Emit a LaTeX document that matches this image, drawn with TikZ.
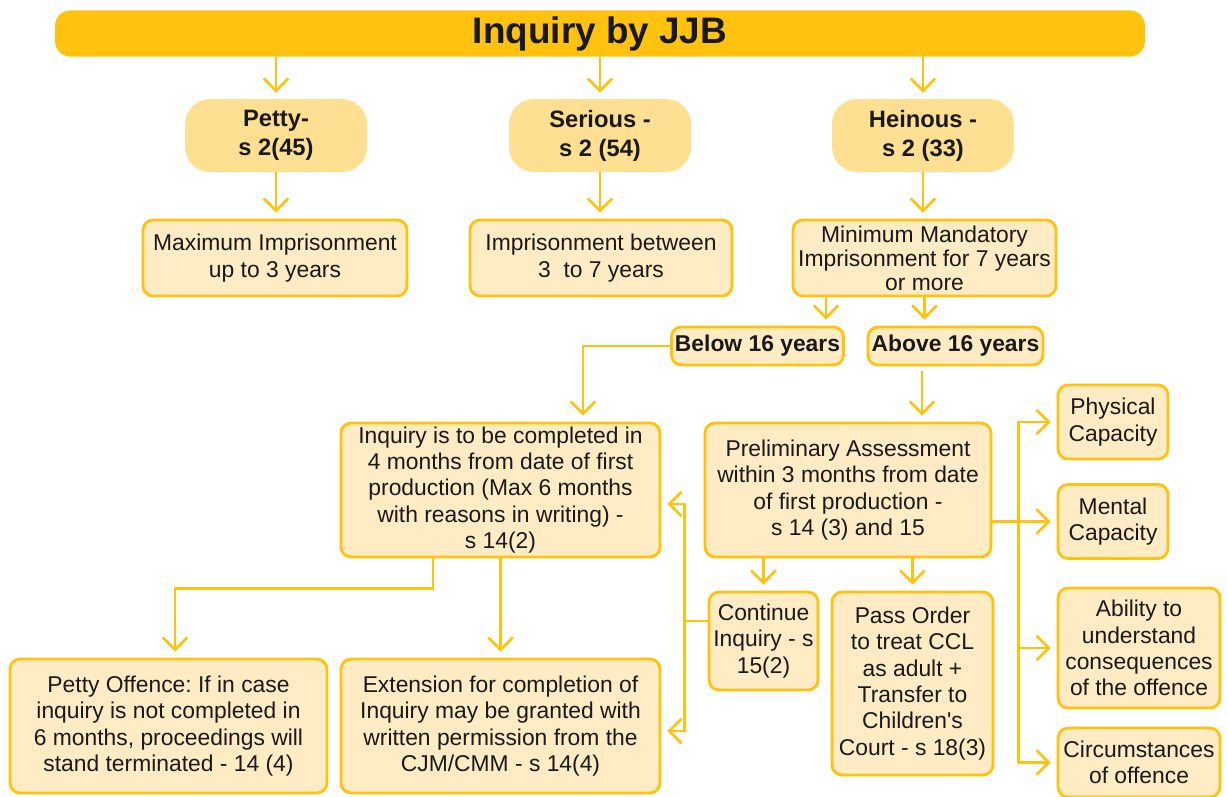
\documentclass[tikz,border=0pt]{standalone}
\usepackage{fontspec}
\setmainfont{Liberation Sans}[Ligatures=TeXOff]
\usetikzlibrary{arrows.meta}
\definecolor{jjbyellow}{HTML}{FFC20E}
\definecolor{jjbmid}{HTML}{FFE092}
\definecolor{jjblight}{HTML}{FFEBC4}
\frenchspacing

\begin{document}
\begin{tikzpicture}[x=0.02cm,y=-0.02cm,
  every node/.style={text=black!90},
  head/.style={fill=jjbyellow,rounded corners=0.3cm,minimum width=21.8cm,minimum height=0.9cm,font=\fontsize{21}{24}\selectfont\bfseries},
  kind/.style={fill=jjbmid,rounded corners=0.5cm,minimum width=3.64cm,minimum height=1.46cm,align=center,font=\fontsize{13.5}{16.5}\selectfont\bfseries},
  box/.style={draw=jjbyellow,line width=1.6pt,fill=jjblight,rounded corners=0.2cm,align=center,inner sep=2pt,font=\fontsize{13}{15}\selectfont},
  age/.style={box,font=\fontsize{13}{15}\selectfont\bfseries},
  link/.style={draw=jjbyellow,line width=1.5pt},
  arr/.style={link,-{Straight Barb[length=7pt,width=14pt]},shorten >=0.12cm}]
\useasboundingbox (0,0) rectangle (1227,796);

\node[head] (title) at (600,33.5) {Inquiry by JJB};

\node[kind] (petty) at (276,135.5) {Petty-\\s 2(45)};
\node[kind] (serious) at (600,135.5) {Serious -\\s 2 (54)};
\node[kind] (heinous) at (923,135.5) {Heinous -\\s 2 (33)};

\node[box,minimum width=5.28cm,minimum height=1.52cm] (maxim) at (275,258) {Maximum Imprisonment\\up to 3 years};
\node[box,minimum width=5.24cm,minimum height=1.52cm] (between) at (601,258) {Imprisonment between\\3 \ to 7 years};
\node[box,minimum width=5.26cm,minimum height=1.52cm,font=\fontsize{13}{13.6}\selectfont] (mandatory) at (924.5,258) {Minimum Mandatory\\Imprisonment for 7 years\\or more};

\node[age,minimum width=3.42cm,minimum height=0.76cm] (below) at (757.5,346) {Below 16 years};
\node[age,minimum width=3.5cm,minimum height=0.76cm] (above) at (955.5,346) {Above 16 years};

\node[box,minimum width=6.38cm,minimum height=2.68cm] (inquiry) at (500.5,490) {Inquiry is to be completed in\\4 months from date of first\\production (Max 6 months\\with reasons in writing) -\\s 14(2)};
\node[box,minimum width=5.72cm,minimum height=2.68cm] (prelim) at (848,490) {Preliminary Assessment\\within 3 months from date\\of first production -\\s 14 (3) and 15};
\node[box,minimum width=2.18cm,minimum height=1.96cm] (continue) at (763.5,641) {Continue\\Inquiry - s\\15(2)};
\node[box,minimum width=3.22cm,minimum height=3.66cm] (transfer) at (912.5,683.5) {Pass Order\\to treat CCL\\as adult +\\Transfer to\\Children's\\Court - s 18(3)};

\node[box,minimum width=2.2cm,minimum height=1.48cm] (physical) at (1113,422) {Physical\\Capacity};
\node[box,minimum width=2.2cm,minimum height=1.48cm] (mental) at (1113,521.5) {Mental\\Capacity};
\node[box,minimum width=3.24cm,minimum height=2.4cm] (ability) at (1139,648) {Ability to\\understand\\consequences\\of the offence};
\node[box,minimum width=3.24cm,minimum height=1.38cm] (circum) at (1139,762.5) {Circumstances\\of offence};

\node[box,minimum width=6.34cm,minimum height=2.68cm] (pettyend) at (168.5,726) {Petty Offence: If in case\\inquiry is not completed in\\6 months, proceedings will\\stand terminated - 14 (4)};
\node[box,minimum width=6.38cm,minimum height=2.68cm] (extension) at (500.5,726) {Extension for completion of\\Inquiry may be granted with\\written permission from the\\CJM/CMM - s 14(4)};

% categories
\draw[arr] (petty.north |- title.south) -- (petty.north);
\draw[arr] (serious.north |- title.south) -- (serious.north);
\draw[arr] (heinous.north |- title.south) -- (heinous.north);
\draw[arr] (petty.south) -- (petty.south |- maxim.north);
\draw[arr] (serious.south) -- (serious.south |- between.north);
\draw[arr] (heinous.south) -- (heinous.south |- mandatory.north);

% age split
\coordinate (b1) at ([xshift=-0.38cm]below.north east);
\draw[arr] (mandatory.south -| b1) -- (b1);
\draw[arr] (mandatory.south) -- (mandatory.south |- above.north);
\coordinate (q1) at ([xshift=1.65cm]inquiry.north);
\draw[arr] (below.west) -| (q1);
\coordinate (a1) at ([xshift=-0.67cm,yshift=-0.1cm]above.south);
\draw[arr] (a1) -- (a1 |- prelim.north);

% assessment outcomes
\draw[arr] (continue.north |- prelim.south) -- (continue.north);
\draw[arr] (transfer.north |- prelim.south) -- (transfer.north);
\draw[link] ([yshift=0.4cm]continue.west) -- ++(-0.46cm,0) coordinate (cj);
\draw[arr] (cj) |- ([yshift=-0.28cm]inquiry.east);
\draw[arr] (cj) |- ([yshift=-0.1cm]extension.east);

% assessment criteria
\coordinate (sp) at ([xshift=0.52cm]prelim.east);
\draw[arr] (circum.west -| sp) |- (physical.west);
\draw[arr] (mental.west -| prelim.east) -- (mental.west);
\draw[arr] (ability.west -| sp) -- (ability.west);
\draw[arr] (circum.west -| sp) -- (circum.west);

% inquiry outcomes
\draw[arr] ([xshift=-1.35cm]inquiry.south) -- ++(0,-0.6cm) -| ([xshift=0.13cm]pettyend.north);
\draw[arr] (inquiry.south) -- (inquiry.south |- extension.north);
\end{tikzpicture}
\end{document}
